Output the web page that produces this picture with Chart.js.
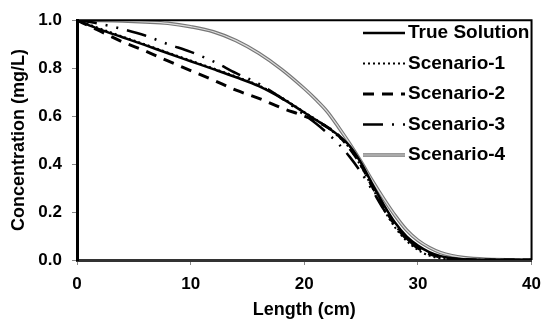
<!DOCTYPE html>
<html>
<head>
<meta charset="utf-8">
<script src="https://cdn.jsdelivr.net/npm/chart.js@4.4.1/dist/chart.umd.min.js"></script>
<style>
  body { margin: 0; background: #fff; }
  canvas { display: block; }
</style>
</head>
<body>
<canvas id="chart" width="550" height="327"></canvas>
<script>
// Length (cm) sample positions
const lengths = [0, 2, 4, 6, 8, 10, 12, 14, 16, 18, 20, 21, 22, 23, 24, 25, 26, 27, 28, 29, 30, 31, 32, 33, 34, 36, 40];

// Concentration (mg/L)
const trueSolution = [1.0, 0.962, 0.929, 0.896, 0.862, 0.829, 0.796, 0.762, 0.725, 0.675, 0.615, 0.585, 0.555, 0.52, 0.475, 0.405, 0.315, 0.23, 0.155, 0.098, 0.06, 0.033, 0.016, 0.007, 0.003, 0.001, 0];
const scenario1 = [1.0, 0.966, 0.932, 0.899, 0.865, 0.832, 0.799, 0.765, 0.728, 0.678, 0.617, 0.587, 0.555, 0.515, 0.465, 0.39, 0.3, 0.21, 0.135, 0.08, 0.042, 0.018, 0.007, 0.002, 0, 0, 0];
const scenario2 = [1.0, 0.955, 0.91, 0.872, 0.83, 0.79, 0.75, 0.708, 0.674, 0.634, 0.6, 0.58, 0.555, 0.52, 0.465, 0.395, 0.305, 0.22, 0.145, 0.088, 0.05, 0.026, 0.012, 0.005, 0.002, 0, 0];
const scenario3 = [1.0, 0.985, 0.963, 0.936, 0.9, 0.868, 0.828, 0.779, 0.735, 0.675, 0.605, 0.57, 0.53, 0.485, 0.43, 0.365, 0.29, 0.21, 0.145, 0.09, 0.05, 0.025, 0.01, 0.004, 0.001, 0, 0];
const scenario4 = [1.0, 0.999, 0.997, 0.993, 0.987, 0.973, 0.952, 0.915, 0.862, 0.795, 0.715, 0.67, 0.62, 0.555, 0.485, 0.41, 0.33, 0.255, 0.185, 0.125, 0.082, 0.052, 0.031, 0.018, 0.01, 0.003, 0];

const xTicks = [0, 10, 20, 30, 40];
const yTicks = [0, 0.2, 0.4, 0.6, 0.8, 1.0];

const FONT = "'Liberation Sans', Arial, sans-serif";

function pts(ys) {
  return lengths.map(function(x, i) { return { x: x, y: ys[i] }; });
}

const dash1 = [2, 3];
const dash2 = [11, 8];
const dash3 = [20, 9, 2, 9, 2, 9];

// legend entries (drawn by plugin)
const legendItems = [
  { label: 'True Solution', dash: [], width: 2.5, color: '#000' },
  { label: 'Scenario-1', dash: dash1, width: 2, color: '#000' },
  { label: 'Scenario-2', dash: dash2, width: 3, color: '#000' },
  { label: 'Scenario-3', dash: dash3, width: 2.5, color: '#000' },
  { label: 'Scenario-4', dash: [], width: 3.5, color: '#777', inner: '#ddd' }
];

const framePlugin = {
  id: 'frame',
  afterDraw(chart) {
    const ctx = chart.ctx;
    const a = chart.chartArea;
    ctx.save();
    ctx.strokeStyle = '#000';
    ctx.lineWidth = 2;
    ctx.beginPath();
    ctx.moveTo(a.left, a.top);
    ctx.lineTo(a.right, a.top);
    ctx.lineTo(a.right, a.bottom);
    ctx.stroke();

    // legend
    ctx.font = 'bold 19px ' + FONT;
    ctx.textBaseline = 'middle';
    ctx.textAlign = 'left';
    legendItems.forEach(function(it, i) {
      const y = 33 + i * 30.5;
      ctx.setLineDash(it.dash);
      ctx.strokeStyle = it.color;
      ctx.lineWidth = it.width;
      ctx.beginPath();
      ctx.moveTo(363, y);
      ctx.lineTo(405, y);
      ctx.stroke();
      if (it.inner) {
        ctx.strokeStyle = it.inner;
        ctx.lineWidth = 1.2;
        ctx.beginPath();
        ctx.moveTo(363, y);
        ctx.lineTo(405, y);
        ctx.stroke();
      }
      ctx.setLineDash([]);
      ctx.fillStyle = '#000';
      ctx.fillText(it.label, 408, y);
    });
    ctx.restore();
  }
};

const common = {
  fill: false,
  pointRadius: 0,
  showLine: true,
  cubicInterpolationMode: 'monotone',
  borderColor: '#000'
};

new Chart(document.getElementById('chart').getContext('2d'), {
  type: 'scatter',
  data: {
    datasets: [
      Object.assign({}, common, { label: 'True Solution', data: pts(trueSolution), borderWidth: 2.5, order: 1 }),
      Object.assign({}, common, { label: 'Scenario-1', data: pts(scenario1), borderWidth: 2, borderDash: dash1, order: 2 }),
      Object.assign({}, common, { label: 'Scenario-2', data: pts(scenario2), borderWidth: 3, borderDash: dash2, order: 3 }),
      Object.assign({}, common, { label: 'Scenario-3', data: pts(scenario3), borderWidth: 2.5, borderDash: dash3, order: 4 }),
      Object.assign({}, common, { label: 'Scenario-4 inner', data: pts(scenario4), borderWidth: 1.2, borderColor: '#ddd', order: 5 }),
      Object.assign({}, common, { label: 'Scenario-4', data: pts(scenario4), borderWidth: 3.5, borderColor: '#777', order: 6 })
    ]
  },
  options: {
    responsive: false,
    animation: false,
    layout: { padding: { top: 14, right: 18, left: 0, bottom: 0 } },
    plugins: {
      legend: { display: false },
      tooltip: { enabled: false }
    },
    scales: {
      x: {
        type: 'linear',
        min: 0,
        max: 40,
        afterBuildTicks: function(axis) { axis.ticks = xTicks.map(function(v) { return { value: v }; }); },
        afterFit: function(axis) { axis.height = 67; },
        grid: { drawOnChartArea: false, drawTicks: true, tickLength: 5, color: '#888' },
        border: { color: '#333', width: 3 },
        ticks: {
          color: '#000',
          padding: 9,
          font: { family: FONT, size: 17, weight: 'bold' }
        },
        title: {
          display: true,
          text: 'Length (cm)',
          color: '#000',
          padding: { top: 6, bottom: 6 },
          font: { family: FONT, size: 18, weight: 'bold' }
        }
      },
      y: {
        min: 0,
        max: 1,
        afterBuildTicks: function(axis) { axis.ticks = yTicks.map(function(v) { return { value: v }; }); },
        afterFit: function(axis) { axis.width = 77; },
        grid: { drawOnChartArea: false, drawTicks: true, tickLength: 5, color: '#888' },
        border: { color: '#000', width: 3 },
        ticks: {
          color: '#000',
          padding: 10,
          font: { family: FONT, size: 17, weight: 'bold' },
          callback: function(v) { return v.toFixed(1); }
        },
        title: {
          display: true,
          text: 'Concentration (mg/L)',
          color: '#000',
          padding: { top: 8, bottom: 8 },
          font: { family: FONT, size: 18, weight: 'bold' }
        }
      }
    }
  },
  plugins: [framePlugin]
});
</script>
</body>
</html>
